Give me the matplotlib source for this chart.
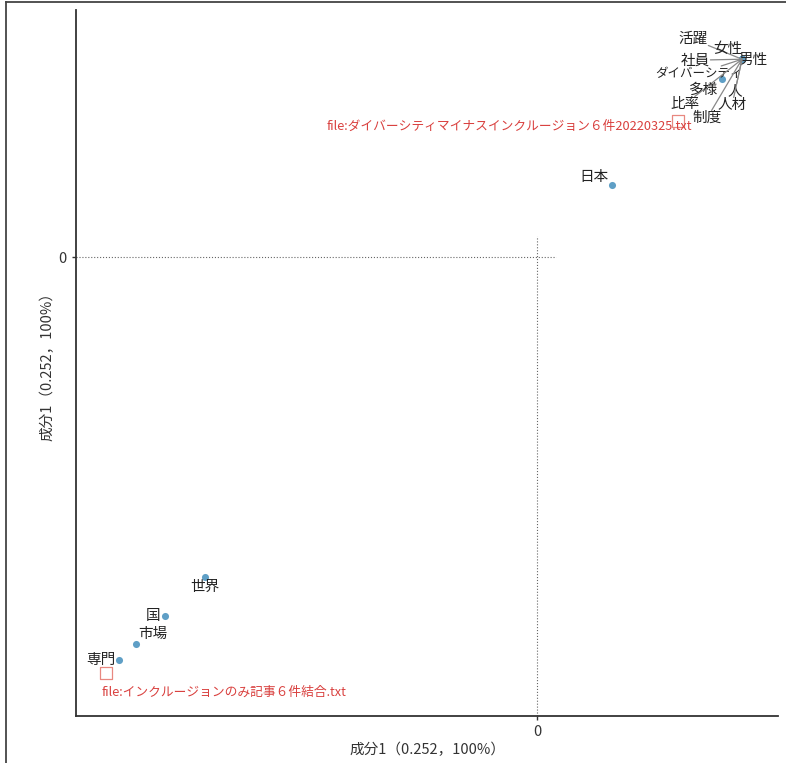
import numpy as np
import matplotlib.pyplot as plt
from matplotlib.lines import Line2D

plt.rcParams['font.family'] = ['Noto Sans CJK JP', 'DejaVu Sans']

# 単語の成分1スコア (横軸・縦軸とも同じ成分)
words = ['活躍', '女性', '社員', '男性', 'ダイバーシティ', '人', '人材', '比率', '制度',
         '多様', '日本', '世界', '国', '市場', '専門']
scores = [1.025, 1.025, 1.025, 1.025, 1.025, 1.025, 1.025, 1.025, 1.025,
          0.925, 0.375, -1.66, -1.86, -2.005, -2.09]
# 文書のスコア
docs = ['file:ダイバーシティマイナスインクルージョン６件20220325.txt',
        'file:インクルージョンのみ記事６件結合.txt']
doc_scores = [0.705, -2.155]
axis_label = '成分1（0.252，100%）'

# ラベル位置 (ピクセル, 右・下が正)
word_offsets = [(-49, -20), (-14, -10), (-47, 1), (11, 1), (-43, 14), (-7, 32), (-10, 46),
                (-57, 45), (-35, 59), (-19, 11), (-18, -8), (0, 9), (-12, 0), (17, -10), (-18, 0)]
word_sizes = [10.5, 10.5, 10.5, 10.5, 9, 10.5, 10.5, 10.5, 10.5,
              10.5, 10.5, 10.5, 10.5, 10.5, 10.5]
has_segment = [True, False, True, False, True, True, True, True, True,
               False, False, False, False, False, False]
doc_offsets = [(-169, 5), (118, 19)]

fig = plt.figure(figsize=(7.86, 7.63), dpi=100)
ax = fig.add_axes([76 / 786, 1 - 716 / 763, 702 / 786, 706 / 763])

xs = np.array(scores)
ax.scatter(xs, xs, s=26, color='#5f9fc6', zorder=3, linewidths=0)
ax.scatter(doc_scores, doc_scores, s=70, marker='s', facecolors='none',
           edgecolors='#e88880', linewidths=0.9, zorder=3)

for w, v, (dx, dy), fs, seg in zip(words, scores, word_offsets, word_sizes, has_segment):
    if seg:
        ax.annotate(w, (v, v), xytext=(dx, -dy), textcoords='offset pixels',
                    ha='center', va='center', fontsize=fs, color='#222222',
                    bbox=dict(fc='none', ec='none', pad=0.5),
                    arrowprops=dict(arrowstyle='-', color='#888888', lw=0.9,
                                    shrinkA=0, shrinkB=0))
    else:
        ax.annotate(w, (v, v), xytext=(dx, -dy), textcoords='offset pixels',
                    ha='center', va='center', fontsize=fs, color='#222222')

for d, v, (dx, dy) in zip(docs, doc_scores, doc_offsets):
    ax.annotate(d, (v, v), xytext=(dx, -dy), textcoords='offset pixels',
                ha='center', va='center', fontsize=9.2, color='#d9403e')

# 原点の補助線
ax.plot([-2.305, 0.095], [0, 0], ls=':', color='#666666', lw=0.8, zorder=1)
ax.plot([0, 0], [-2.378, 0.109], ls=':', color='#666666', lw=0.8, zorder=1)

ax.set_xlim(-2.305, 1.205)
ax.set_ylim(-2.378, 1.28)
ax.set_xticks([0])
ax.set_yticks([0])
ax.tick_params(labelsize=10.5, colors='#333333', length=3, width=1)
ax.set_xlabel(axis_label, fontsize=10.5, color='#333333', labelpad=3)
ax.set_ylabel(axis_label, fontsize=10.5, color='#333333', labelpad=3)
for s in ['top', 'right']:
    ax.spines[s].set_visible(False)
for s in ['left', 'bottom']:
    ax.spines[s].set_color('#333333')
    ax.spines[s].set_linewidth(1.3)

# 画面キャプチャの枠線
fig.add_artist(Line2D([5.5 / 786, 1], [1 - 1.5 / 763, 1 - 1.5 / 763], color='#444444', lw=1.3))
fig.add_artist(Line2D([5.5 / 786, 5.5 / 786], [0, 1 - 1.5 / 763], color='#444444', lw=1.3))

fig.savefig('out.png', dpi=100)
